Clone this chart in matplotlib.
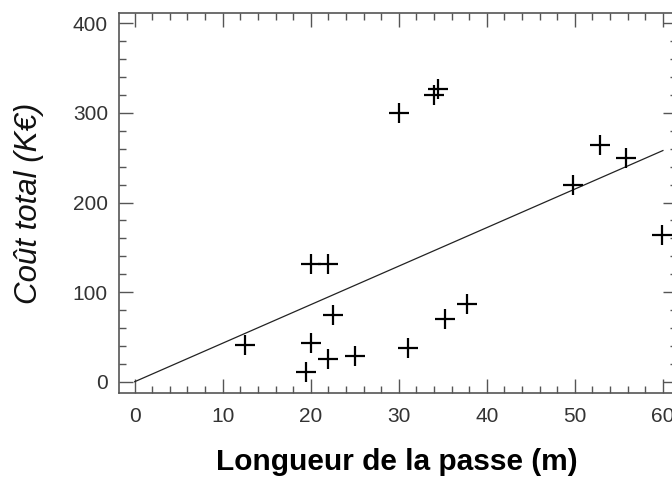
import matplotlib
matplotlib.use("Agg")
import matplotlib.pyplot as plt
from matplotlib.ticker import MultipleLocator

# Données
longueur = [12.5, 19.5, 20.0, 20.0, 22.0, 22.0, 22.5, 25.0, 30.0, 31.0,
            34.0, 34.4, 35.3, 37.8, 49.8, 52.8, 55.8, 59.9]
cout = [41, 11, 43, 131, 25, 131, 74, 29, 300, 38,
        320, 327, 70, 87, 220, 264, 250, 164]

# Droite de régression (extrémités)
droite_x = [0, 60]
droite_y = [0, 258]

W, H = 672, 482
fig = plt.figure(figsize=(W / 100, H / 100), dpi=100)
plt.rcParams['font.family'] = ['Liberation Sans', 'DejaVu Sans']

# axes: le cadre de droite sort de l'image
ax = fig.add_axes([119 / W, 1 - 393 / H, (677 - 119) / W, (393 - 13) / H])

ax.plot(droite_x, droite_y, color='#222222', lw=0.9)
ax.plot(longueur, cout, ls='none', marker='+', ms=15, mew=1.6, color='black')

ax.set_xlim(-1.78, 61.6)
ax.set_ylim(-12.6, 411.5)

ax.xaxis.set_major_locator(MultipleLocator(10))
ax.xaxis.set_minor_locator(MultipleLocator(2))
ax.yaxis.set_major_locator(MultipleLocator(100))
ax.yaxis.set_minor_locator(MultipleLocator(20))

ax.tick_params(which='both', direction='in', top=True, right=True,
               color='#555555', width=1)
ax.tick_params(which='major', length=10, labelsize=15, labelcolor='#333333')
ax.tick_params(which='minor', length=5)
ax.tick_params(axis='x', which='major', pad=10)
ax.tick_params(axis='y', which='major', pad=8)

for s in ax.spines.values():
    s.set_color('#555555')
    s.set_linewidth(1.2)

fig.text(29 / W, 1 - 203 / H, 'Coût total (K€)', rotation=90, style='italic',
         fontsize=22.5, ha='center', va='center', color='#111111')
fig.text(397 / W, 1 - 462 / H, 'Longueur de la passe (m)', fontweight='bold',
         fontsize=21.5, ha='center', va='center', color='black')

fig.savefig('out.png', dpi=100)
